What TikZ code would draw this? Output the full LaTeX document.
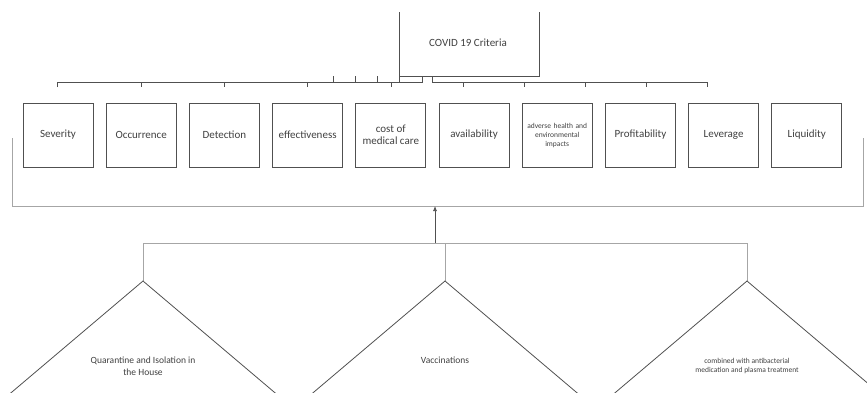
\documentclass[tikz,border=0pt]{standalone}
\usepackage{fontspec}
\setmainfont{Carlito}
\usetikzlibrary{arrows.meta,calc}
\definecolor{txt}{HTML}{404040}
\definecolor{ln}{HTML}{505050}
\definecolor{lt}{HTML}{A6A6A6}
\tikzset{
  crit/.style={draw=ln, line width=0.9pt, minimum width=70pt, minimum height=64pt,
    inner sep=1pt, align=center, text=txt, font=\fontsize{11}{12}\selectfont},
  brk/.style={draw=ln, line width=0.8pt},
  light/.style={draw=lt, line width=0.8pt},
  tri/.style={draw=ln, line width=0.8pt},
  lab/.style={text=txt, align=center, inner sep=0pt}
}
\begin{document}
\begin{tikzpicture}[x=1pt,y=-1pt]
\useasboundingbox (0,0) rectangle (867,392);
\clip (0,0) rectangle (867,392);
% criteria box (open top)
\draw[brk] (399,12) -- (399,76) -- (539,76) -- (539,12);
\node[lab, font=\fontsize{11}{12}\selectfont] (covid) at (468,43) {COVID 19 Criteria};
% left bracket
\draw[brk] (57,87) -- (57,82) -- (422,82) -- (422,76);
\foreach \x in {141,224,307,391} \draw[brk] (\x,82) -- (\x,87);
\foreach \x in {333,355,377,399} \draw[brk] (\x,82) -- (\x,76);
% right bracket
\draw[brk] (432,76) -- (432,82) -- (707,82) -- (707,87);
\foreach \x in {463,524,585,646} \draw[brk] (\x,82) -- (\x,87);
% criteria boxes
\node[crit] (sev) at (58,135) {Severity};
\node[crit] (occ) at (141.2,135) {Occurrence};
\node[crit] (det) at (224.4,135) {Detection};
\node[crit] (eff) at (307.6,135) {effectiveness};
\node[crit] (cost) at (390.8,135) {cost of\\medical care};
\node[crit] (avail) at (474,135) {availability};
\node[crit, font=\fontsize{7.5}{9}\selectfont, text width=66pt] (adv) at (557.2,135) {adverse health and\\environmental\\impacts};
\node[crit] (prof) at (640.4,135) {Profitability};
\node[crit] (lev) at (723.6,135) {Leverage};
\node[crit] (liq) at (806.8,135) {Liquidity};
% enclosing bracket
\coordinate (gl) at (12,138);
\coordinate (gr) at (863,138);
\coordinate (gm) at (435,206);
\draw[light] (gl) -- (12,206) -- (863,206) -- (gr);
% alternatives
\coordinate (a1) at (143,281);
\coordinate (a2) at (445,281);
\coordinate (a3) at (747,281);
\coordinate (hm) at (435,243);
\draw[light] (a1) -- (143,243) -- (747,243) -- (a3);
\draw[light] (445,243) -- (a2);
\draw[ln, line width=0.7pt, -{Latex[length=5pt,width=4pt]}] (hm) -- (gm);
\foreach \a in {a1,a2,a3}
  \draw[tri] ($(\a)+(-140.5,119)$) -- (\a) -- ($(\a)+(140.5,119)$);
\node[lab, font=\fontsize{9.5}{12}\selectfont] (q) at (143,366) {Quarantine and Isolation in\\the House};
\node[lab, font=\fontsize{9.5}{12}\selectfont] (v) at (445,360) {Vaccinations};
\node[lab, font=\fontsize{7.5}{9}\selectfont] (c) at (747,365.5) {combined with antibacterial\\medication and plasma treatment};
\end{tikzpicture}
\end{document}
